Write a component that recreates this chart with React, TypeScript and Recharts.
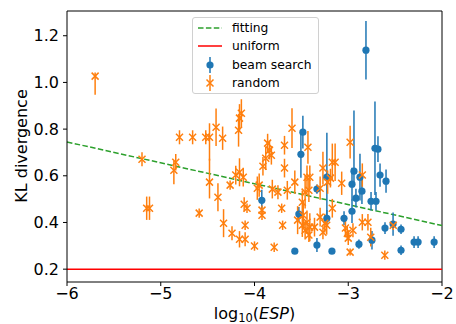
import React from "react";
import {
  ScatterChart,
  Scatter,
  ErrorBar,
  XAxis,
  YAxis,
  ReferenceLine,
} from "recharts";

const xTicks = [-6, -5, -4, -3, -2];
const yTicks = [0.2, 0.4, 0.6, 0.8, 1.0, 1.2];

// least squares fit, endpoints at the x limits
const fitX = [-6, -2];
const fitY = [0.745, 0.387];
const uniformKL = 0.2;

const beamX = [
  -2.811, -2.715, -2.683, -3.484, -3.505, -3.922, -3.228, -3.527, -3.334, -3.57,
  -3.174, -3.228, -3.045, -2.96, -2.939, -2.875, -2.854, -2.918, -2.96, -2.886,
  -2.747, -2.757, -2.704, -2.661, -2.597, -2.608, -2.522, -2.437, -2.437, -2.298,
  -2.255, -2.084, -3.334,
];
const beamY = [
  1.138, 0.718, 0.714, 0.787, 0.692, 0.495, 0.594, 0.436, 0.303, 0.277,
  0.277, 0.418, 0.418, 0.564, 0.62, 0.594, 0.534, 0.504, 0.448, 0.307,
  0.324, 0.491, 0.491, 0.603, 0.577, 0.376, 0.393, 0.371, 0.281, 0.316,
  0.316, 0.316, 0.543,
];
const beamErr: (number | number[])[] = [
  0.125, 0.2, 0.055, 0.07, 0.1, 0.045, 0.19, 0.03, 0.03, 0.01,
  0.01, 0.035, 0.03, 0.07, [0.05, 0.26], 0.1, 0.055, 0.04, 0.05, 0.02,
  0.04, 0.04, 0.04, 0.05, 0.05, 0.025, 0.05, 0.02, 0.02, 0.025,
  0.025, 0.025, 0.02,
];

const randX = [
  -5.7, -5.2, -5.15, -5.12, -4.86, -4.84, -4.8, -4.66, -4.52, -4.48,
  -4.41, -4.34, -4.59, -4.48, -4.39, -4.33, -4.24, -4.16, -4.1, -4.1,
  -4.0, -4.26, -4.2, -4.16, -4.12, -4.11, -4.08, -4.17, -4.16, -4.14,
  -3.97, -3.95, -3.91, -3.88, -3.86, -3.84, -3.82, -3.92, -3.92, -3.81,
  -3.79, -3.7, -3.71, -3.68, -3.68, -3.6, -3.43, -2.98, -3.17, -3.14,
  -3.27, -3.41, -3.44, -3.57, -3.75, -3.65, -3.46, -3.42, -3.3, -3.22,
  -3.07, -3.19, -3.17, -3.49, -3.48, -3.54, -3.44, -3.49, -3.41, -3.46,
  -3.36, -3.42, -3.27, -3.23, -3.3, -3.25, -3.03, -3.01, -3.0, -2.98,
  -2.85, -2.79, -2.76, -2.61, -2.52, -2.85, -2.95,
];
const randY = [
  1.027, 0.671, 0.461, 0.461, 0.624, 0.658, 0.765, 0.765, 0.765, 0.765,
  0.808, 0.761, 0.44, 0.573, 0.508, 0.397, 0.354, 0.328, 0.328, 0.388,
  0.299, 0.56, 0.603, 0.615, 0.594, 0.478, 0.461, 0.795, 0.847, 0.868,
  0.547, 0.56, 0.641, 0.675, 0.74, 0.71, 0.688, 0.453, 0.431, 0.543,
  0.294, 0.388, 0.461, 0.731, 0.633, 0.804, 0.722, 0.744, 0.658, 0.658,
  0.633, 0.594, 0.594, 0.573, 0.53, 0.538, 0.53, 0.538, 0.547, 0.573,
  0.568, 0.59, 0.461, 0.487, 0.431, 0.41, 0.401, 0.388, 0.38, 0.367,
  0.38, 0.346, 0.358, 0.388, 0.423, 0.397, 0.376, 0.354, 0.333, 0.273,
  0.401, 0.401, 0.337, 0.26, 0.388, 0.603, 0.367,
];
const randErr: (number | number[])[] = [
  [0.08, 0.015], 0.03, 0.05, 0.05, [0.06, 0.04], 0.035, 0.03, 0.03, 0.03, [0.1, 0.06],
  0.08, 0.05, 0.02, [0.07, 0.1], 0.06, 0.06, 0.03, 0.035, 0.03, 0.02,
  0.02, 0.02, 0.04, 0.06, 0.04, 0.03, 0.02, 0.07, 0.06, 0.06,
  0.05, 0.05, 0.04, 0.05, 0.04, 0.04, 0.04, 0.02, 0.02, 0.04,
  0.02, 0.02, 0.02, 0.04, 0.04, 0.085, 0.07, 0.07, 0.08, 0.08,
  0.07, 0.05, 0.05, 0.05, 0.03, 0.04, 0.07, 0.05, 0.05, 0.05,
  0.05, 0.04, 0.04, 0.05, 0.06, 0.06, 0.05, 0.05, 0.06, 0.04,
  0.04, 0.03, 0.03, 0.04, 0.04, 0.04, 0.04, 0.03, 0.03, 0.015,
  0.035, 0.035, 0.04, 0.02, 0.02, 0.05, 0.03,
];

const beamData = beamX.map((x, i) => ({ x, y: beamY[i], err: beamErr[i] }));
const randData = randX.map((x, i) => ({ x, y: randY[i], err: randErr[i] }));

const BLUE = "#1f77b4";
const ORANGE = "#ff7f0e";
const GREEN = "#2ca02c";
const RED = "#ff0000";
const FONT = "DejaVu Sans, sans-serif";

const Dot = (props: any) => (
  <circle cx={props.cx} cy={props.cy} r={3.6} fill={BLUE} />
);

const Cross = (props: any) => {
  const { cx, cy } = props;
  const s = 3.5;
  return (
    <path
      d={`M${cx - s},${cy - s}L${cx + s},${cy + s}M${cx - s},${cy + s}L${cx + s},${cy - s}`}
      stroke={ORANGE}
      strokeWidth={1.5}
      fill="none"
    />
  );
};

const fmtX = (v: number) => String(v).replace("-", "\u2212");
const fmtY = (v: number) => v.toFixed(1);

const XLabel = (props: any) => {
  const vb = props.viewBox || {};
  const cx = (vb.x ?? 67) + (vb.width ?? 375) / 2;
  return (
    <text x={cx} y={318.5} textAnchor="middle" fontSize={16} fontFamily={FONT} fill="#000">
      log
      <tspan fontSize={11.5} dy={3}>10</tspan>
      <tspan dy={-3}>(</tspan>
      <tspan fontStyle="italic">ESP</tspan>
      <tspan>)</tspan>
    </text>
  );
};

const YLabel = () => (
  <text
    x={21}
    y={146}
    transform="rotate(-90 21 146)"
    textAnchor="middle"
    dominantBaseline="central"
    fontSize={16}
    fontFamily={FONT}
    fill="#000"
  >
    KL divergence
  </text>
);

const legendRows = [
  { label: "fitting", kind: "dash" },
  { label: "uniform", kind: "line" },
  { label: "beam search", kind: "dot" },
  { label: "random", kind: "cross" },
];

const LegendIcon = ({ kind }: { kind: string }) => (
  <svg width={26} height={18} style={{ position: "absolute", left: 4, top: 0 }}>
    {kind === "dash" && (
      <line x1={1} y1={9} x2={25} y2={9} stroke={GREEN} strokeWidth={1.5} strokeDasharray="5.5 2.4" />
    )}
    {kind === "line" && <line x1={1} y1={9} x2={25} y2={9} stroke={RED} strokeWidth={1.5} />}
    {kind === "dot" && (
      <g>
        <line x1={13} y1={1} x2={13} y2={17} stroke={BLUE} strokeWidth={1.5} />
        <circle cx={13} cy={9} r={3.6} fill={BLUE} />
      </g>
    )}
    {kind === "cross" && (
      <g>
        <line x1={13} y1={1} x2={13} y2={17} stroke={ORANGE} strokeWidth={1.5} />
        <path d="M9.5,5.5L16.5,12.5M9.5,12.5L16.5,5.5" stroke={ORANGE} strokeWidth={1.5} />
      </g>
    )}
  </svg>
);

const LegendBox = () => (
  <div
    style={{
      position: "absolute",
      left: 192,
      top: 17,
      width: 125,
      height: 75,
      border: "1px solid #d0d0d0",
      borderRadius: 3,
      background: "rgba(255,255,255,0.8)",
      fontFamily: FONT,
      fontSize: 12.3,
      color: "#000",
    }}
  >
    {legendRows.map((r, i) => (
      <div
        key={r.label}
        style={{ position: "absolute", left: 0, top: 1 + i * 18.3, height: 18, width: 125 }}
      >
        <LegendIcon kind={r.kind} />
        <span style={{ position: "absolute", left: 39, top: 0, lineHeight: "18px", whiteSpace: "nowrap" }}>
          {r.label}
        </span>
      </div>
    ))}
  </div>
);

const Y_MIN = 0.145;
const Y_MAX = 1.306;

export default function App() {
  return (
    <div style={{ position: "absolute", left: 0, top: 0, width: 456, height: 324, background: "#fff" }}>
      <ScatterChart width={456} height={324} margin={{ top: 11, right: 14, bottom: 0, left: 0 }}>
        <XAxis
          type="number"
          dataKey="x"
          domain={[-6, -2]}
          ticks={xTicks}
          allowDataOverflow
          height={42}
          tickFormatter={fmtX}
          tick={{ fill: "#000", fontSize: 16, fontFamily: FONT }}
          tickSize={4}
          tickMargin={2}
          stroke="#000"
          label={<XLabel />}
        />
        <YAxis
          type="number"
          dataKey="y"
          domain={[Y_MIN, Y_MAX]}
          ticks={yTicks}
          allowDataOverflow
          width={67}
          tickFormatter={fmtY}
          tick={{ fill: "#000", fontSize: 16, fontFamily: FONT }}
          tickSize={4}
          tickMargin={4}
          stroke="#000"
          label={<YLabel />}
        />
        <ReferenceLine y={Y_MAX} stroke="#000" strokeWidth={1} />
        <ReferenceLine x={-2} stroke="#000" strokeWidth={1} />
        <ReferenceLine
          segment={[
            { x: fitX[0], y: fitY[0] },
            { x: fitX[1], y: fitY[1] },
          ]}
          stroke={GREEN}
          strokeWidth={1.5}
          strokeDasharray="5.5 2.4"
        />
        <ReferenceLine y={uniformKL} stroke={RED} strokeWidth={1.5} />
        <Scatter name="beam search" data={beamData} shape={Dot} isAnimationActive={false}>
          <ErrorBar dataKey="err" direction="y" width={0} stroke={BLUE} strokeWidth={1.5} />
        </Scatter>
        <Scatter name="random" data={randData} shape={Cross} isAnimationActive={false}>
          <ErrorBar dataKey="err" direction="y" width={0} stroke={ORANGE} strokeWidth={1.5} />
        </Scatter>
      </ScatterChart>
      <LegendBox />
    </div>
  );
}
